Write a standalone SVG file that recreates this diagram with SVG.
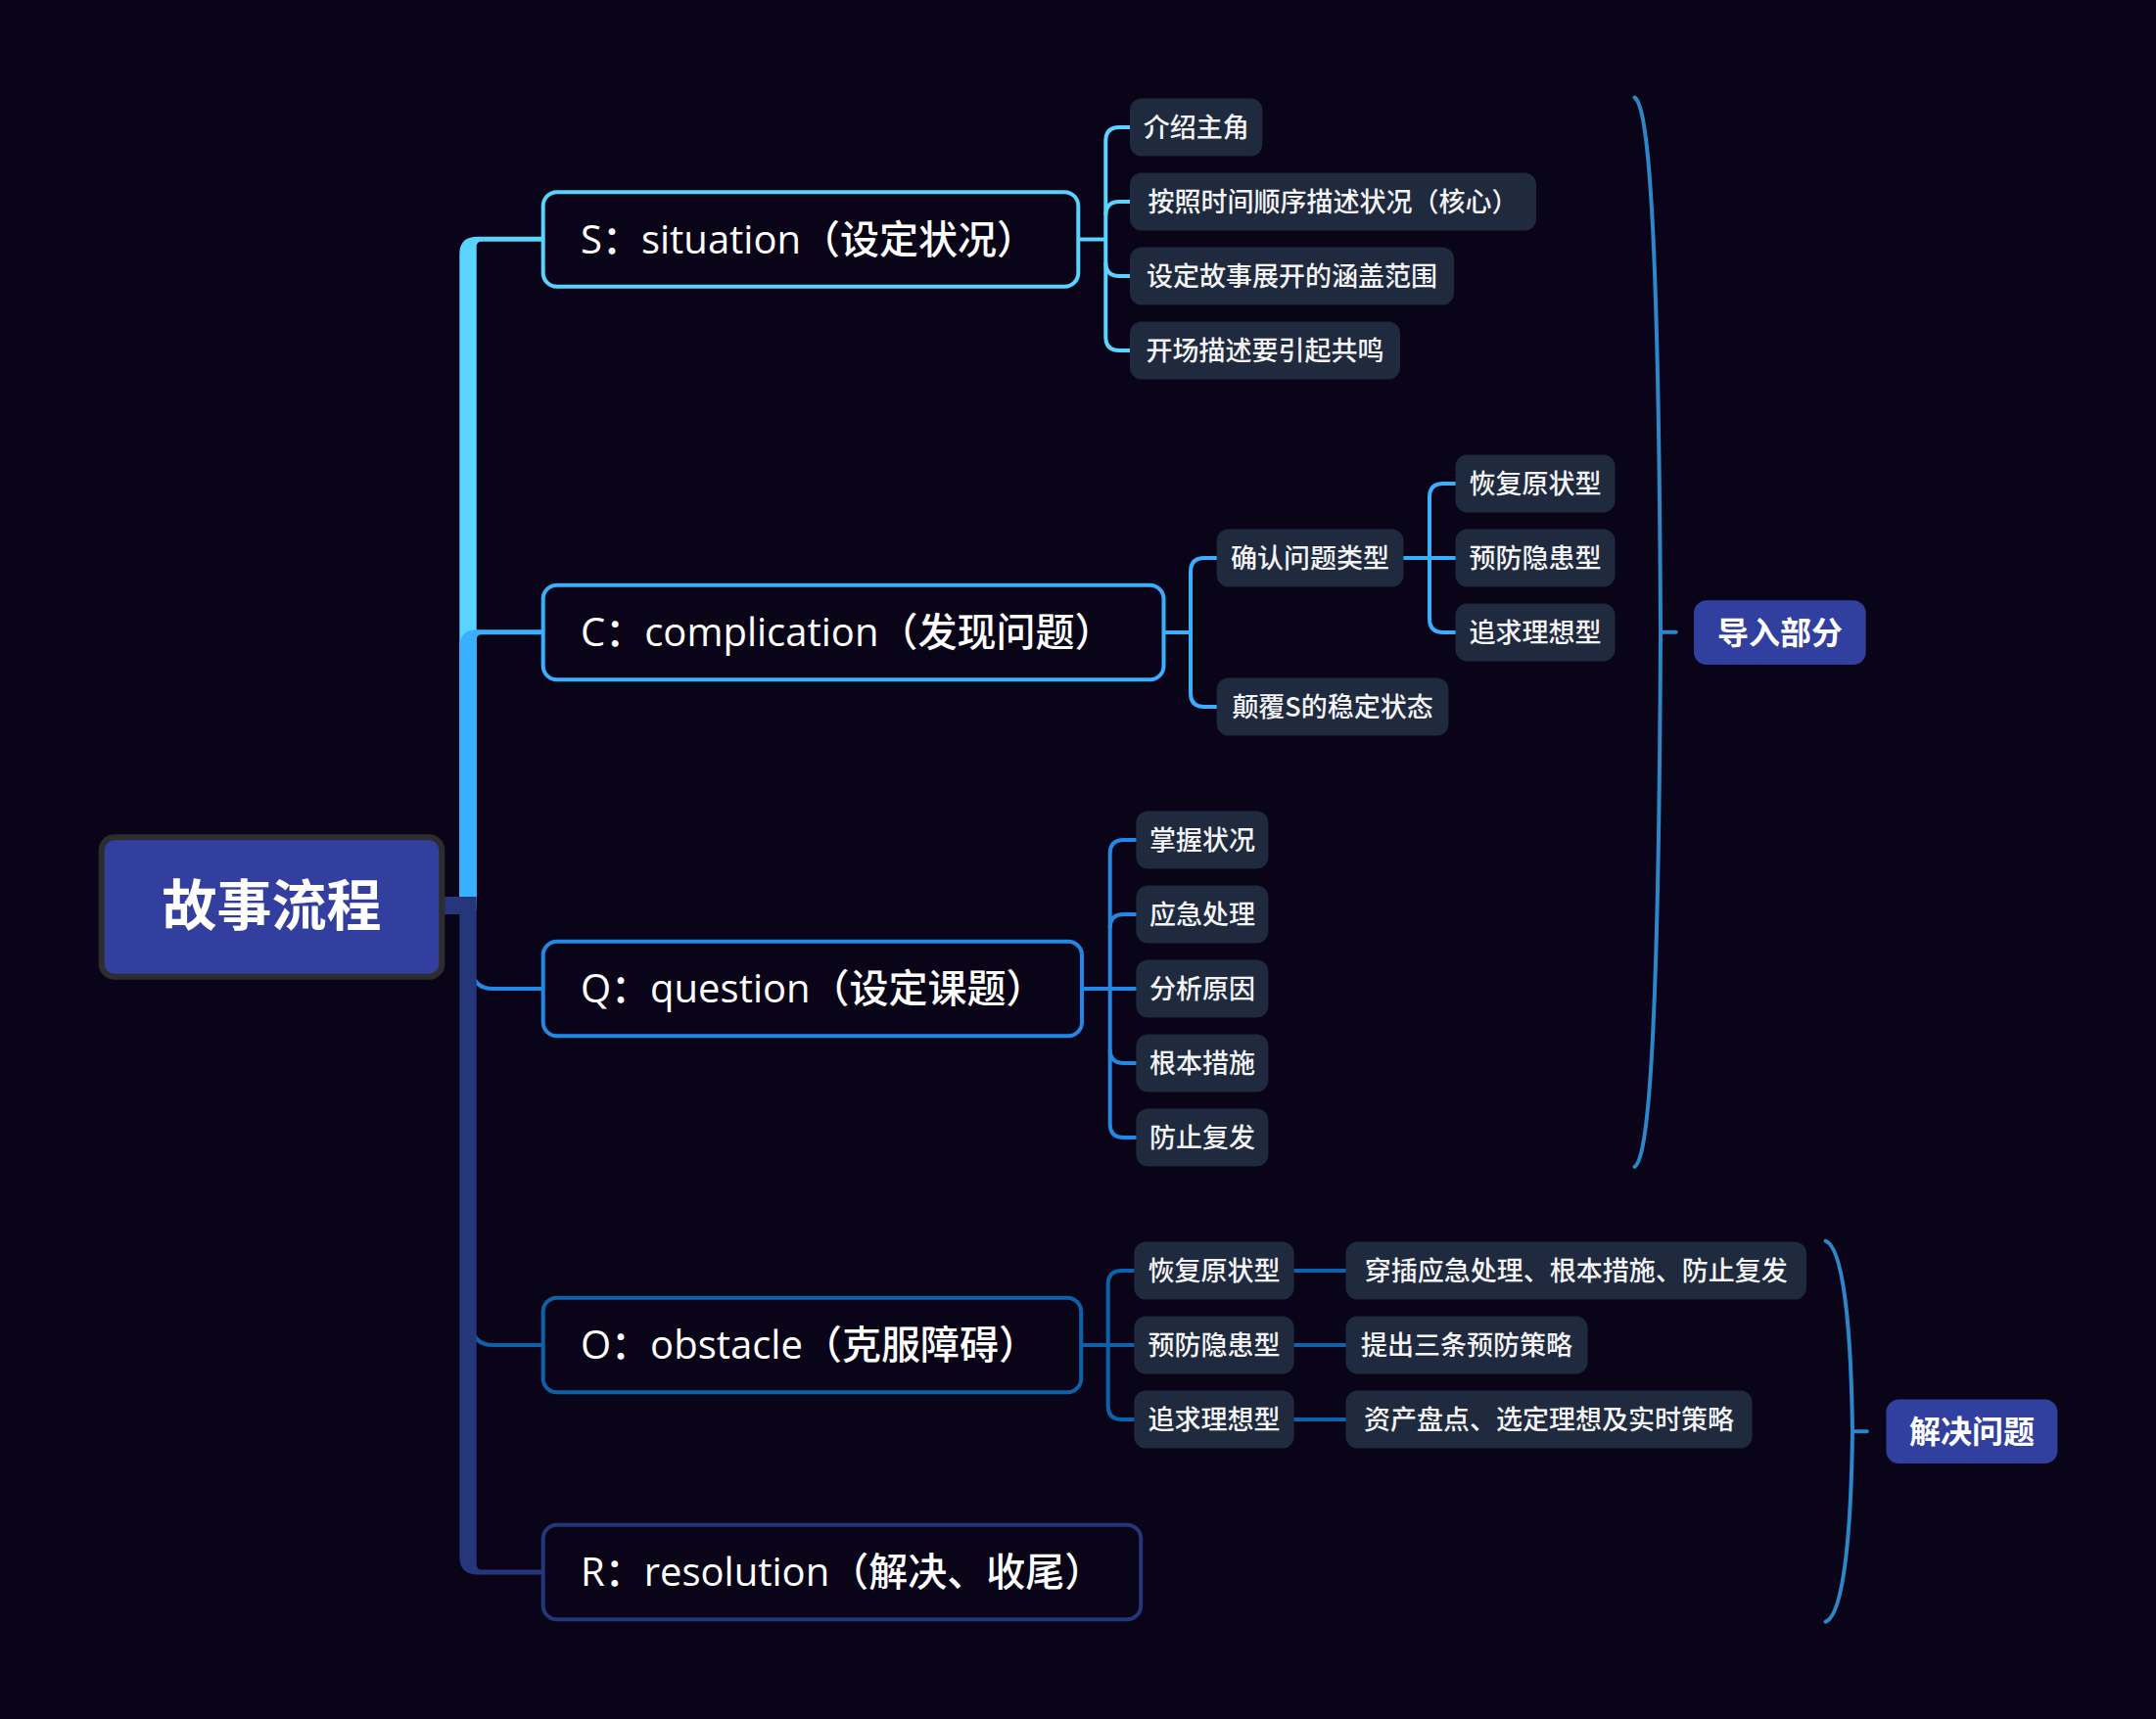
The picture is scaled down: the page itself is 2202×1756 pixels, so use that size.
<svg xmlns="http://www.w3.org/2000/svg" width="2202" height="1756" viewBox="0 0 2202 1756">
<style>
.main{fill:#0A0418;stroke-width:4}
.mt{font-family:'Open Sans','Noto Sans CJK SC',sans-serif;font-size:40px;font-weight:500;fill:#FFFFFF}
.sub{fill:#1F2A3E}
.st{font-family:'Noto Sans CJK SC','Open Sans',sans-serif;font-size:27px;font-weight:500;fill:#F4F4F6;text-anchor:middle}
.sum{fill:#313F9F}
.sumt{font-family:'Noto Sans CJK SC',sans-serif;font-size:32px;font-weight:700;fill:#FFFFFF;text-anchor:middle}
.ln{fill:none;stroke-width:4;stroke-linecap:butt}
.brace{fill:none;stroke:#2B87C8;stroke-width:4;stroke-linecap:round}
</style>
<rect x="0" y="0" width="2202" height="1756" fill="#0A0418"/>

<g id="connectors">
  <!-- main branches -->
  <path d="M 469.3 925 V 259.5 Q 469.3 241.7 487.6 241.7 H 556 V 246.7 H 492 Q 486.7 246.7 486.7 252 V 925 Z" fill="#5BD3FF"/>
  <path d="M 469.3 930 V 661 Q 469.3 643.3 487.6 643.3 H 556 V 648.3 H 492 Q 486.7 648.3 486.7 653.6 V 930 Z" fill="#38AFFF"/>
  <path d="M 482 960 V 988 Q 482 1010 504 1010 H 556" class="ln" stroke="#2388E4" stroke-width="5"/>
  <path d="M 482 1320 V 1352 Q 482 1374 504 1374 H 556" class="ln" stroke="#0C62AA" stroke-width="5"/>
  <path d="M 454 916 H 486.7 V 1598 Q 486.7 1603.5 492 1603.5 H 556 V 1608.5 H 487.6 Q 469.3 1608.5 469.3 1590 V 934 H 454 Z" fill="#25367A"/>

  <!-- S children -->
  <g stroke="#5BD3FF" class="ln">
    <path d="M 1101 244.5 H 1129.3"/>
    <path d="M 1156 130 H 1143.3 Q 1129.3 130 1129.3 144 V 344 Q 1129.3 358 1143.3 358 H 1156"/>
    <path d="M 1129.3 220 Q 1129.3 206 1143.3 206 H 1156"/>
    <path d="M 1129.3 268 Q 1129.3 282 1143.3 282 H 1156"/>
  </g>
  <!-- C children -->
  <g stroke="#38AFFF" class="ln">
    <path d="M 1188 646 H 1216"/>
    <path d="M 1244 570 H 1230 Q 1216 570 1216 584 V 708 Q 1216 722 1230 722 H 1244"/>
    <path d="M 1432 570 H 1488"/>
    <path d="M 1488 494 H 1474 Q 1460 494 1460 508 V 632 Q 1460 646 1474 646 H 1488"/>
  </g>
  <!-- Q children -->
  <g stroke="#2388E4" class="ln">
    <path d="M 1105 1010 H 1162"/>
    <path d="M 1162 858 H 1147.7 Q 1133.7 858 1133.7 872 V 1148 Q 1133.7 1162 1147.7 1162 H 1162"/>
    <path d="M 1133.7 948 Q 1133.7 934 1147.7 934 H 1162"/>
    <path d="M 1133.7 1072 Q 1133.7 1086 1147.7 1086 H 1162"/>
  </g>
  <!-- O children -->
  <g stroke="#0C62AA" class="ln">
    <path d="M 1104 1374 H 1160"/>
    <path d="M 1160 1298 H 1145.7 Q 1131.7 1298 1131.7 1312 V 1436 Q 1131.7 1450 1145.7 1450 H 1160"/>
    <path d="M 1320 1298 H 1376"/>
    <path d="M 1320 1374 H 1376"/>
    <path d="M 1320 1450 H 1376"/>
  </g>
  <!-- summary braces -->
  <path class="brace" d="M 1669.5 99.5 C 1682 108, 1694 200, 1696 645.7 C 1694 1091.4, 1682 1183.4, 1669.5 1191.9"/>
  <path class="brace" d="M 1696 645.7 H 1711.7" stroke-linecap="butt"/>
  <path class="brace" d="M 1864.6 1267.7 C 1878 1273, 1890 1320, 1892 1462.2 C 1890 1604.4, 1878 1651.4, 1864.6 1656.7"/>
  <path class="brace" d="M 1892 1462.2 H 1906.7" stroke-linecap="butt"/>
</g>

<g id="root">
  <rect x="103.7" y="855.3" width="347.6" height="142.4" rx="13" fill="#323F9E" stroke="#2D2D2D" stroke-width="6"/>
  <text x="277.5" y="945" font-family="'Noto Sans CJK SC',sans-serif" font-size="56" font-weight="700" fill="#FFFFFF" text-anchor="middle">故事流程</text>
</g>

<g id="topic-s">
  <rect class="main" x="554.7" y="196.3" width="546.6" height="96.4" rx="14" stroke="#5BD3FF"/>
  <text class="mt" x="593" y="258.5">S：situation（设定状况）</text>
</g>
<g id="topic-c">
  <rect class="main" x="554.7" y="597.8" width="633.8" height="96.4" rx="14" stroke="#38AFFF"/>
  <text class="mt" x="593" y="660">C：complication（发现问题）</text>
</g>
<g id="topic-q">
  <rect class="main" x="554.7" y="961.8" width="550.3" height="96.4" rx="14" stroke="#2388E4"/>
  <text class="mt" x="593" y="1024">Q：question（设定课题）</text>
</g>
<g id="topic-o">
  <rect class="main" x="554.7" y="1325.8" width="549.5" height="96.4" rx="14" stroke="#0C62AA"/>
  <text class="mt" x="593" y="1388">O：obstacle（克服障碍）</text>
</g>
<g id="topic-r">
  <rect class="main" x="554.7" y="1557.8" width="610.5" height="96.4" rx="14" stroke="#25367A"/>
  <text class="mt" x="593" y="1620">R：resolution（解决、收尾）</text>
</g>

<g id="s1"><rect class="sub" x="1154" y="100.5" width="135.3" height="59" rx="12"/><text class="st" x="1221.7" y="140">介绍主角</text></g>
<g id="s2"><rect class="sub" x="1154" y="176.5" width="415" height="59" rx="12"/><text class="st" x="1361.5" y="216">按照时间顺序描述状况（核心）</text></g>
<g id="s3"><rect class="sub" x="1154" y="252.5" width="331" height="59" rx="12"/><text class="st" x="1319.5" y="292">设定故事展开的涵盖范围</text></g>
<g id="s4"><rect class="sub" x="1154" y="328.5" width="276" height="59" rx="12"/><text class="st" x="1292" y="368">开场描述要引起共鸣</text></g>

<g id="c1"><rect class="sub" x="1242.7" y="540.5" width="190.8" height="59" rx="12"/><text class="st" x="1338.1" y="580">确认问题类型</text></g>
<g id="c2"><rect class="sub" x="1242.7" y="692.5" width="236.8" height="59" rx="12"/><text class="st" x="1361.1" y="732">颠覆S的稳定状态</text></g>
<g id="c11"><rect class="sub" x="1486.5" y="464.5" width="163" height="59" rx="12"/><text class="st" x="1568" y="504">恢复原状型</text></g>
<g id="c12"><rect class="sub" x="1486.5" y="540.5" width="163" height="59" rx="12"/><text class="st" x="1568" y="580">预防隐患型</text></g>
<g id="c13"><rect class="sub" x="1486.5" y="616.5" width="163" height="59" rx="12"/><text class="st" x="1568" y="656">追求理想型</text></g>

<g id="q1"><rect class="sub" x="1160.4" y="828.5" width="135" height="59" rx="12"/><text class="st" x="1227.9" y="868">掌握状况</text></g>
<g id="q2"><rect class="sub" x="1160.4" y="904.5" width="135" height="59" rx="12"/><text class="st" x="1227.9" y="944">应急处理</text></g>
<g id="q3"><rect class="sub" x="1160.4" y="980.5" width="135" height="59" rx="12"/><text class="st" x="1227.9" y="1020">分析原因</text></g>
<g id="q4"><rect class="sub" x="1160.4" y="1056.5" width="135" height="59" rx="12"/><text class="st" x="1227.9" y="1096">根本措施</text></g>
<g id="q5"><rect class="sub" x="1160.4" y="1132.5" width="135" height="59" rx="12"/><text class="st" x="1227.9" y="1172">防止复发</text></g>

<g id="o1"><rect class="sub" x="1158.3" y="1268.5" width="163.4" height="59" rx="12"/><text class="st" x="1240" y="1308">恢复原状型</text></g>
<g id="o2"><rect class="sub" x="1158.3" y="1344.5" width="163.4" height="59" rx="12"/><text class="st" x="1240" y="1384">预防隐患型</text></g>
<g id="o3"><rect class="sub" x="1158.3" y="1420.5" width="163.4" height="59" rx="12"/><text class="st" x="1240" y="1460">追求理想型</text></g>
<g id="o11"><rect class="sub" x="1374.5" y="1268.5" width="470.5" height="59" rx="12"/><text class="st" x="1609.8" y="1308">穿插应急处理、根本措施、防止复发</text></g>
<g id="o21"><rect class="sub" x="1374.5" y="1344.5" width="247" height="59" rx="12"/><text class="st" x="1498" y="1384">提出三条预防策略</text></g>
<g id="o31"><rect class="sub" x="1374.5" y="1420.5" width="415" height="59" rx="12"/><text class="st" x="1582" y="1460">资产盘点、选定理想及实时策略</text></g>

<g id="summary-intro"><rect class="sum" x="1730" y="613.3" width="175.7" height="65.7" rx="13"/><text class="sumt" x="1817.9" y="657.5">导入部分</text></g>
<g id="summary-solve"><rect class="sum" x="1926.4" y="1429.4" width="175" height="65.7" rx="13"/><text class="sumt" x="2013.9" y="1474">解决问题</text></g>
</svg>
